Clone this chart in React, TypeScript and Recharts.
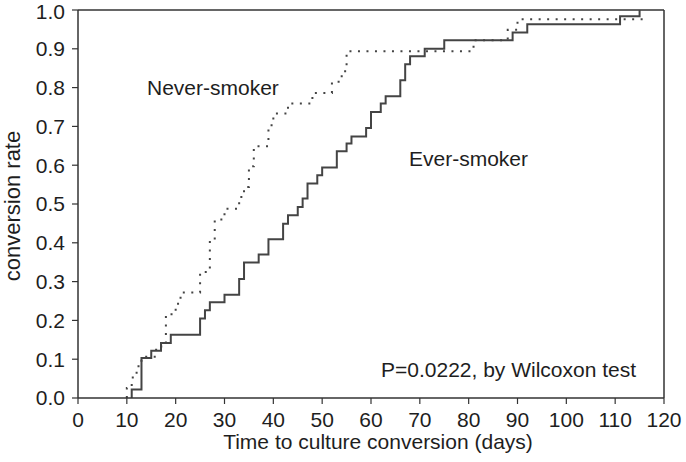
import * as React from 'react'
import { Customized, Line, LineChart, ReferenceLine, XAxis, YAxis } from 'recharts'

// Kaplan-Meier style step data (day, cumulative conversion rate)
const everDays = [11, 13, 15, 17, 19, 25, 26, 27, 30, 33, 34, 37, 39, 42, 43, 45, 46, 47, 49, 50, 53, 55, 56, 59, 60, 62, 63, 66, 67, 68, 71, 75, 89, 92, 111, 115]
const everRate = [0.022, 0.103, 0.122, 0.142, 0.163, 0.205, 0.226, 0.247, 0.266, 0.307, 0.349, 0.37, 0.409, 0.449, 0.471, 0.492, 0.514, 0.553, 0.574, 0.594, 0.636, 0.656, 0.674, 0.696, 0.737, 0.759, 0.778, 0.819, 0.86, 0.881, 0.9, 0.922, 0.942, 0.963, 0.984, 1.0]

const neverDays = [10, 11, 12, 13, 16, 18, 20, 21, 25, 27, 28, 30, 33, 34, 35, 36, 39, 40, 43, 48, 52, 54, 55, 81, 88, 90, 116]
const neverRate = [0.026, 0.053, 0.082, 0.106, 0.133, 0.216, 0.243, 0.272, 0.325, 0.406, 0.46, 0.488, 0.518, 0.544, 0.597, 0.649, 0.703, 0.733, 0.759, 0.786, 0.815, 0.842, 0.894, 0.922, 0.949, 0.976, 0.976]

const xTicks = [0, 10, 20, 30, 40, 50, 60, 70, 80, 90, 100, 110, 120]
const yTicks = [0, 0.1, 0.2, 0.3, 0.4, 0.5, 0.6, 0.7, 0.8, 0.9, 1.0]

const toSteps = (days: number[], rates: number[]) => {
  const pts = [{ day: days[0], rate: 0 }]
  days.forEach((d, i) => pts.push({ day: d, rate: rates[i] }))
  return pts
}

const everData = toSteps(everDays, everRate)
const neverData = toSteps(neverDays, neverRate)

const FONT = 'Arial, "Liberation Sans", Helvetica, sans-serif'
const INK = '#1e1e1e'
const AXIS = '#333'

const Texts = () => (
  <g fontFamily={FONT} fill={INK}>
    <text x={147} y={94.5} fontSize={21}>Never-smoker</text>
    <text x={409} y={165.5} fontSize={21}>Ever-smoker</text>
    <text x={381} y={376.5} fontSize={21}>P=0.0222, by Wilcoxon test</text>
    <text x={378} y={449} fontSize={21} textAnchor="middle">Time to culture conversion (days)</text>
    <text x={0} y={0} fontSize={22} textAnchor="middle" transform="translate(20,206) rotate(-90)">conversion rate</text>
  </g>
)

// y tick label; the top one is nudged down a little so it stays inside the page
const YTick = (props: any) => {
  const { x, y, payload } = props
  return (
    <text x={x} y={Math.max(y, 12)} dy="0.355em" textAnchor="end" fontSize={21} fontFamily={FONT} fill={INK}>
      {Number(payload.value).toFixed(1)}
    </text>
  )
}

export default function App() {
  const tickStyle = { fontSize: 21, fontFamily: FONT, fill: INK }
  return (
    <div style={{ position: 'absolute', left: 0, top: 0, background: '#fff' }}>
      <LineChart width={686} height={462} margin={{ top: 10, right: 22, bottom: 0, left: 0 }}>
        <XAxis
          type="number"
          dataKey="day"
          domain={[0, 120]}
          ticks={xTicks}
          interval={0}
          allowDataOverflow
          height={64}
          tickSize={6}
          tickMargin={8}
          tick={tickStyle}
          stroke={AXIS}
          axisLine={{ stroke: AXIS, strokeWidth: 1.5 }}
          tickLine={{ stroke: AXIS, strokeWidth: 1.2 }}
        />
        <YAxis
          type="number"
          domain={[0, 1]}
          ticks={yTicks}
          interval={0}
          width={78}
          tickSize={6}
          tickMargin={7}
          tick={<YTick />}
          stroke={AXIS}
          axisLine={{ stroke: AXIS, strokeWidth: 1.5 }}
          tickLine={{ stroke: AXIS, strokeWidth: 1.2 }}
        />
        <ReferenceLine y={1} stroke={AXIS} strokeWidth={1.5} />
        <ReferenceLine x={120} stroke={AXIS} strokeWidth={1.5} />
        <Line
          data={neverData}
          dataKey="rate"
          type="stepAfter"
          stroke="#444"
          strokeWidth={2}
          strokeDasharray="2 6.5"
          dot={false}
          isAnimationActive={false}
        />
        <Line
          data={everData}
          dataKey="rate"
          type="stepAfter"
          stroke="#444"
          strokeWidth={2}
          dot={false}
          isAnimationActive={false}
        />
        <Customized component={Texts} />
      </LineChart>
    </div>
  )
}
